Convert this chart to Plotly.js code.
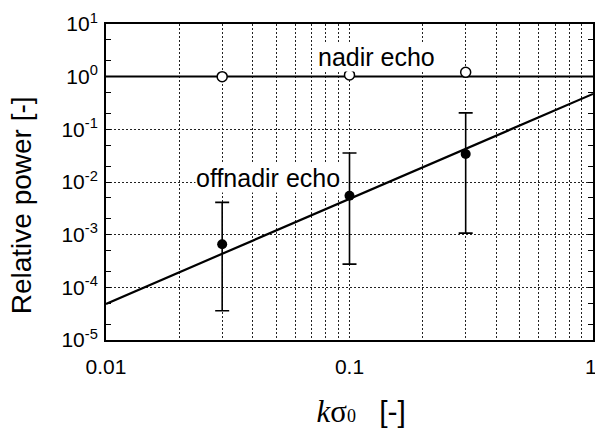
<!DOCTYPE html>
<html>
<head>
<meta charset="utf-8">
<script src="https://cdn.plot.ly/plotly-3.0.1.min.js"></script>
<style>html,body{margin:0;padding:0;background:#fff;}#chart{width:595px;height:429px;}</style>
</head>
<body>
<div id="chart"></div>
<script>
// k*sigma0 sample positions
const kSigma = [0.03, 0.1, 0.3];
// nadir echo relative power (open circles)
const nadirPower = [1.0, 1.08, 1.21];
// offnadir echo relative power (filled circles) with error range
const offPower = [6.6e-4, 5.5e-3, 0.034];
const offUpper = [4.1e-3, 0.0356, 0.205];
const offLower = [3.6e-5, 2.76e-4, 1.07e-3];
// reference curves
const nadirLineX = [0.01, 1];
const nadirLineY = [1.01, 1.01];
const fitX = [0.01, 1];
const fitY = [4.85e-5, 0.471];
// tick labels
const xTickVals = [0.01, 0.1, 1];
const xTickText = ['0.01', '0.1', '1\u2009'];
const yTickVals = [1e-5, 1e-4, 1e-3, 1e-2, 1e-1, 1, 10];
const yTickText = ['10<sup>-5</sup>', '10<sup>-4</sup>', '10<sup>-3</sup>', '10<sup>-2</sup>', '10<sup>-1</sup>', '10<sup>0</sup>', '10<sup>1</sup>'];

const FONT = 'Arial, "Liberation Sans", Helvetica, sans-serif';
const SERIF = "'Liberation Serif', 'Times New Roman', serif";
const gridCol = '#222222';
const ZW = '\u200b';
const NB = '\u00a0';

const traces = [
  {x: nadirLineX, y: nadirLineY, mode: 'lines', line: {color: 'black', width: 2}, showlegend: false, hoverinfo: 'skip'},
  {x: fitX, y: fitY, mode: 'lines', line: {color: 'black', width: 2.2}, showlegend: false, hoverinfo: 'skip'},
  {x: kSigma, y: offPower, mode: 'markers', marker: {symbol: 'circle', size: 10, color: 'black'},
   error_y: {type: 'data', symmetric: false,
     array: offUpper.map((u, i) => u - offPower[i]),
     arrayminus: offLower.map((l, i) => offPower[i] - l),
     color: 'black', thickness: 1.6, width: 7},
   showlegend: false},
  {x: kSigma, y: nadirPower, mode: 'markers', marker: {symbol: 'circle', size: 10, color: 'white', line: {color: 'black', width: 1.5}}, showlegend: false}
];

const layout = {
  width: 595, height: 429,
  margin: {l: 106, r: 2, t: 24, b: 89},
  paper_bgcolor: 'white', plot_bgcolor: 'white',
  font: {family: FONT, color: 'black', size: 21},
  showlegend: false,
  xaxis: {
    type: 'log', range: [-2, 0],
    tickmode: 'array', tickvals: xTickVals, ticktext: xTickText,
    ticks: '', showline: true, linecolor: 'black', linewidth: 2, mirror: true,
    showgrid: true, gridcolor: gridCol, gridwidth: 1, griddash: '2px,2px',
    minor: {dtick: 'D1', showgrid: true, gridcolor: gridCol, gridwidth: 1, griddash: '2px,2px', ticks: ''},
    zeroline: false,
    tickfont: {size: 21, family: FONT},
    ticklabelstandoff: 7,
    ticklabeloverflow: 'allow',
    title: {
      text: ZW + NB + NB + NB + '<span style="font-family:' + SERIF + ';font-style:italic;font-size:31px">k</span><span style="font-family:' + SERIF + ';font-size:31px">σ</span><span style="font-family:' + SERIF + ';font-size:18px">0</span>' + NB + NB + NB + '<span style="font-size:30px">[-]</span>',
      font: {size: 28, family: FONT}, standoff: 28
    },
    automargin: false
  },
  yaxis: {
    type: 'log', range: [-5, 1],
    tickmode: 'array', tickvals: yTickVals, ticktext: yTickText,
    ticks: 'inside', ticklen: 5, tickcolor: 'black', tickwidth: 1,
    showline: true, linecolor: 'black', linewidth: 2, mirror: 'allticks',
    showgrid: true, gridcolor: gridCol, gridwidth: 1, griddash: '2px,2px',
    minor: {dtick: 'D2', ticks: 'inside', ticklen: 5, tickcolor: 'black', tickwidth: 1, showgrid: false},
    zeroline: false,
    tickfont: {size: 21, family: FONT},
    ticklabelstandoff: 2,
    title: {text: 'Relative power [-]' + NB.repeat(6) + ZW, font: {size: 28, family: FONT}, standoff: 22},
    automargin: false
  },
  annotations: [
    {x: Math.log10(0.1285), y: Math.log10(2.41), xref: 'x', yref: 'y', text: 'nadir echo', showarrow: false,
     font: {size: 25, family: FONT, color: 'black'}, bgcolor: 'white', borderpad: 0, xanchor: 'center', yanchor: 'middle'},
    {x: Math.log10(0.0462), y: Math.log10(0.0121), xref: 'x', yref: 'y', text: 'offnadir echo', showarrow: false,
     font: {size: 25, family: FONT, color: 'black'}, bgcolor: 'white', borderpad: 0, xanchor: 'center', yanchor: 'middle'}
  ]
};

Plotly.newPlot('chart', traces, layout, {displayModeBar: false, staticPlot: true});
</script>
</body>
</html>
